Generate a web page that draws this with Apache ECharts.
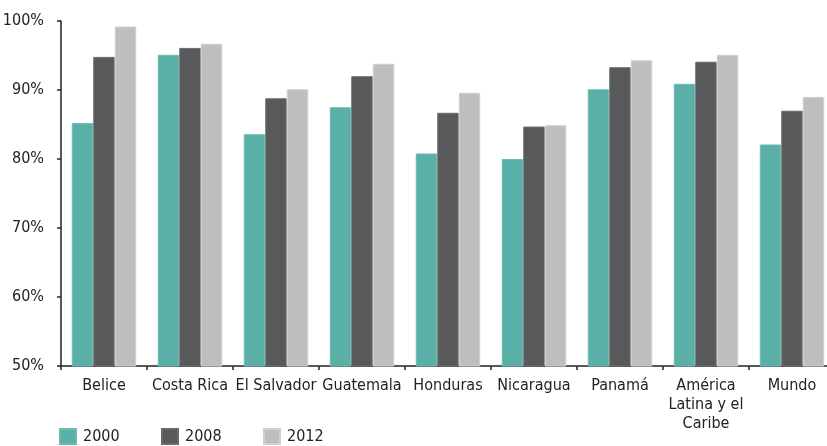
<!DOCTYPE html>
<html>
<head>
<meta charset="utf-8">
<script src="https://cdn.jsdelivr.net/npm/echarts@6/dist/echarts.min.js"></script>
<style>
  html, body { margin: 0; padding: 0; background: #fff; }
  #chart { width: 827px; height: 446px; }
</style>
</head>
<body>
<div id="chart"></div>
<script>
// Categories and shares per year (percent)
const categories = ['Belice', 'Costa Rica', 'El Salvador', 'Guatemala', 'Honduras',
  'Nicaragua', 'Panamá', 'América\nLatina y el\nCaribe', 'Mundo'];
const years = ['2000', '2008', '2012'];
const values2000 = [85.2, 95.1, 83.6, 87.5, 80.8, 80.0, 90.1, 90.9, 82.1];
const values2008 = [94.8, 96.1, 88.8, 92.0, 86.7, 84.7, 93.3, 94.1, 87.0];
const values2012 = [99.2, 96.7, 90.1, 93.8, 89.6, 84.9, 94.3, 95.1, 89.0];
const yTicks = { min: 50, max: 100, interval: 10 };

const colors = ['#5ab0a6', '#58595b', '#bdbec0'];
const FONT = '"DejaVu Sans Condensed", "Liberation Sans Narrow", sans-serif';
const FONT_SIZE = 16;

const seriesData = [values2000, values2008, values2012];

const chart = echarts.init(document.getElementById('chart'), null, { renderer: 'canvas' });

const legendLefts = [59, 161, 263];

chart.setOption({
  animation: false,
  color: colors,
  grid: { left: 61, top: 21, right: -8, bottom: 80, containLabel: false, outerBoundsMode: 'none' },
  legend: years.map((y, i) => ({
    data: [y],
    left: legendLefts[i],
    top: 428,
    itemWidth: 16,
    itemHeight: 15,
    itemGap: 0,
    icon: 'rect',
    padding: 0,
    textStyle: { fontFamily: FONT, fontSize: FONT_SIZE, color: '#222', padding: [1, 0, 0, 2] }
  })),
  xAxis: {
    type: 'category',
    data: categories,
    axisLine: { lineStyle: { color: '#222', width: 1.5 } },
    axisTick: { show: true, length: 4, alignWithLabel: false, lineStyle: { color: '#222', width: 1.5 } },
    axisLabel: {
      interval: 0,
      margin: 10,
      fontFamily: FONT,
      fontSize: FONT_SIZE,
      lineHeight: 19,
      color: '#222'
    }
  },
  yAxis: {
    type: 'value',
    min: yTicks.min,
    max: yTicks.max,
    interval: yTicks.interval,
    axisLine: { show: true, lineStyle: { color: '#222', width: 1.5 } },
    axisTick: { show: true, length: 4, lineStyle: { color: '#222', width: 1.5 } },
    splitLine: { show: false },
    axisLabel: {
      margin: 17,
      fontFamily: FONT,
      fontSize: FONT_SIZE,
      color: '#222',
      formatter: v => v + '%'
    }
  },
  series: years.map((y, i) => ({
    name: y,
    type: 'bar',
    data: seriesData[i],
    barGap: '0%',
    barCategoryGap: '25%',
    itemStyle: {
      color: colors[i],
      borderColor: i === 2 ? '#cfd0d2' : (i === 0 ? '#6cbab0' : '#6a6b6d'),
      borderWidth: 1
    }
  }))
});
</script>
</body>
</html>
